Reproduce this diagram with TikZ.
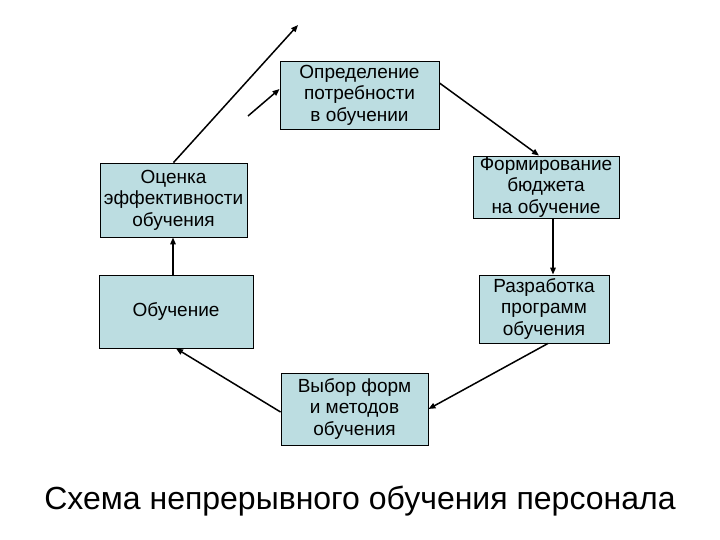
\documentclass[tikz,border=0pt]{standalone}
\usepackage{fontspec}
\setmainfont{Liberation Sans}
\usetikzlibrary{arrows.meta}
\definecolor{boxfill}{RGB}{188,221,225}

\begin{document}
\begin{tikzpicture}[
    x=1bp, y=-1bp,
    every node/.style={font=\fontsize{19bp}{21.5bp}\selectfont},
    stage/.style={draw, fill=boxfill, inner sep=0pt, align=center, line width=0.9bp},
    link/.style={draw, line width=1.5bp, -{Triangle[length=7bp, width=5.5bp]}}
]
\useasboundingbox (0,0) rectangle (720,540);
\node[stage, minimum width=159bp, minimum height=68bp] (need) at (359.5,95) {Определение\\потребности\\в обучении};
\node[stage, minimum width=147bp, minimum height=74bp] (assess) at (173.5,200) {Оценка\\эффективности\\обучения};
\node[stage, minimum width=146bp, minimum height=62bp] (budget) at (546,187) {Формирование\\бюджета\\на обучение};
\node[stage, minimum width=154bp, minimum height=73bp] (train) at (176,311.5) {Обучение};
\node[stage, minimum width=130bp, minimum height=68bp] (program) at (544,309) {Разработка\\программ\\обучения};
\node[stage, minimum width=147bp, minimum height=72bp] (choice) at (354.5,409) {Выбор форм\\и методов\\обучения};
\node[font=\fontsize{32bp}{38bp}\selectfont] (title) at (360,501) {Схема непрерывного обучения персонала};

\coordinate (outend) at (298,25);
\coordinate (instart) at (248,116);

\draw[link] (assess.north) -- (outend);
\draw[link] (instart) -- ([yshift=6bp]need.west);
\draw[link] ([yshift=12bp]need.east) -- ([xshift=-7bp]budget.north);
\draw[link] ([xshift=7bp]budget.south) -- ([xshift=7bp]budget.south |- program.north);
\draw[link] ([xshift=4bp]program.south) -- (choice.east);
\draw[link] ([yshift=-3bp]choice.west) -- (train.south);
\draw[link] ([xshift=-0.5bp]assess.south |- train.north) -- ([xshift=-0.5bp]assess.south);
\end{tikzpicture}
\end{document}
